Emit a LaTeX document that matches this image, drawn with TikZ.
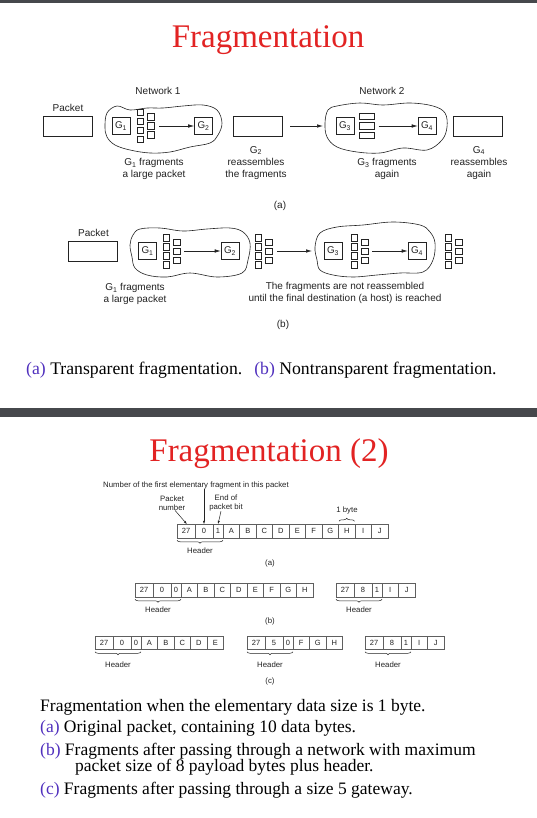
\documentclass[tikz,border=0pt]{standalone}
\usepackage{fontspec}
\setmainfont{Liberation Serif}
\setsansfont{Liberation Sans}
\usetikzlibrary{arrows.meta,decorations.pathreplacing}
\definecolor{titlered}{RGB}{226,35,35}
\definecolor{capblue}{RGB}{80,48,190}
\definecolor{barc}{RGB}{70,72,76}
\definecolor{ink}{RGB}{35,35,35}
\definecolor{cellc}{RGB}{95,95,95}

\newcommand\cellrow[4]{%
  \foreach \w/\txt [count=\i] in {#4}{%
    \pgfmathtruncatemacro\j{\i-1}%
    \ifnum\i=1
      \node[cell,minimum width=\w pt,anchor=west] (#1-\i) at (#2,#3) {\txt};%
    \else
      \node[cell,minimum width=\w pt,anchor=west] (#1-\i) at (#1-\j.east) {\txt};%
    \fi
  }%
}
\newcommand\fragcluster[3]{%
  \foreach \dy [count=\k] in {-13.5,-4.5,4.5,13.5}{\node[sq] (#1-a\k) at ({#2},{#3+(\dy)}) {};}%
  \foreach \dy [count=\k] in {-9,0,9}{\node[sq] (#1-b\k) at ({#2+10.5},{#3+(\dy)}) {};}%
}

\begin{document}
\begin{tikzpicture}[x=1pt,y=-1pt,
  gbox/.style={draw=ink, line width=0.6pt, minimum width=18pt, minimum height=17pt, inner sep=0, font=\sffamily\fontsize{9.8}{11}\selectfont, text=ink},
  pbox/.style={draw=ink, line width=0.6pt, minimum width=49pt, minimum height=20pt, inner sep=0},
  sq/.style={draw=ink, line width=0.5pt, minimum size=6.5pt, inner sep=0},
  fragr/.style={draw=ink, line width=0.5pt, minimum width=15pt, minimum height=6.5pt, inner sep=0},
  lbl/.style={font=\sffamily\fontsize{10}{12}\selectfont, text=ink, align=center, inner sep=0},
  blob/.style={draw=ink, line width=0.6pt},
  arr/.style={draw=ink, line width=0.6pt, -{Latex[length=6pt,width=3.5pt]}},
  sarr/.style={draw=ink, line width=0.5pt, -{Latex[length=3.5pt,width=2.2pt]}},
  cell/.style={draw=cellc, line width=0.5pt, minimum height=13.5pt, inner sep=0, outer sep=0, font=\sffamily\fontsize{7.5}{8}\selectfont, text=ink},
  small/.style={font=\sffamily\fontsize{7.8}{8.6}\selectfont, text=ink, align=center, inner sep=0},
  brc/.style={draw=ink, line width=0.5pt, decorate, decoration={brace, amplitude=3pt}},
  title/.style={font=\fontsize{33}{36}\selectfont, text=titlered, inner sep=0, anchor=base},
  body/.style={font=\fontsize{17.5}{20}\selectfont, text=black, inner sep=0, anchor=base west}
]
\useasboundingbox (0,0) rectangle (537,818);
\fill[white] (0,0) rectangle (537,818);
\fill[barc] (0,0) rectangle (537,3);
\fill[barc] (0,408) rectangle (537,417);

% ---------- slide 1 ----------
\node[title] (t1) at (268,48) {Fragmentation};

% (a) transparent
\node[lbl] (net1) at (158,91) {Network 1};
\node[lbl] (net2) at (382,91) {Network 2};
\node[lbl] (pkla) at (68,108) {Packet};
\node[pbox] (Pa) at (67.5,126) {};
\draw[blob] plot[smooth cycle, tension=0.6] coordinates {(105,127) (107,113) (117,106) (130,110) (147,108) (163,108) (183,106) (203,105) (217,110) (222,123) (218,135) (210,143) (190,147) (170,152) (150,153) (130,150) (115,145) (107,137)};
\node[gbox] (G1a) at (121,126) {G\textsubscript{1}};
\fragcluster{A1}{140}{126}
\node[gbox] (G2a) at (203.5,126) {G\textsubscript{2}};
\draw[arr] ([xshift=5pt]A1-b2.east) -- (G2a.west);
\node[pbox] (Ra) at (257.5,126) {};
\coordinate (c2w) at (323,126);
\draw[arr] ([xshift=8pt]Ra.east) -- (c2w);
\draw[blob] plot[smooth cycle, tension=0.6] coordinates {(325,123) (328,110) (337,106) (360,103) (383,105) (410,103) (433,106) (445,113) (447,127) (442,140) (427,150) (403,148) (380,153) (357,152) (337,147) (327,137)};
\node[gbox] (G3a) at (345,126) {G\textsubscript{3}};
\node[fragr] (F1) at (366.8,116.5) {};
\node[fragr] (F2) at (366.8,126) {};
\node[fragr] (F3) at (366.8,135.5) {};
\node[gbox] (G4a) at (427,126) {G\textsubscript{4}};
\draw[arr] ([xshift=4pt]F2.east) -- (G4a.west);
\node[pbox] (Fa) at (478,126) {};
\node[lbl] (la1) at (154,169) {G\textsubscript{1} fragments\\a large packet};
\node[lbl] (la2) at (256,163) {G\textsubscript{2}\\reassembles\\the fragments};
\node[lbl] (la3) at (387,169) {G\textsubscript{3} fragments\\again};
\node[lbl] (la4) at (479,163) {G\textsubscript{4}\\reassembles\\again};
\node[lbl] (capa) at (280,206) {(a)};

% (b) nontransparent
\node[lbl] (pklb) at (93.5,233) {Packet};
\node[pbox] (Pb) at (93,251) {};
\draw[blob] plot[smooth cycle, tension=0.6] coordinates {(130,245) (133,235) (140,229) (160,228) (183,231) (207,229) (230,228) (243,232) (250,243) (248,260) (242,273) (217,277) (190,273) (167,277) (147,275) (135,268) (132,257)};
\node[gbox] (G1b) at (147.5,251) {G\textsubscript{1}};
\fragcluster{B1}{166}{251}
\node[gbox] (G2b) at (230,251) {G\textsubscript{2}};
\draw[arr] ([xshift=4pt]B1-b2.east) -- (G2b.west);
\fragcluster{B2}{258}{251}
\coordinate (cb2w) at (312,251);
\draw[arr] ([xshift=5pt]B2-b2.east) -- (cb2w);
\draw[blob] plot[smooth cycle, tension=0.6] coordinates {(315,247) (320,233) (337,227) (363,225) (393,222) (420,225) (430,232) (435,243) (433,260) (423,272) (400,273) (377,275) (353,277) (333,275) (320,270) (317,260)};
\node[gbox] (G3b) at (333,251) {G\textsubscript{3}};
\fragcluster{B3}{354}{251}
\node[gbox] (G4b) at (417,251) {G\textsubscript{4}};
\draw[arr] ([xshift=4pt]B3-b2.east) -- (G4b.west);
\fragcluster{B4}{448}{251}
\node[lbl] (lb1) at (135,294) {G\textsubscript{1} fragments\\a large packet};
\node[lbl] (lb2) at (345,293) {The fragments are not reassembled\\until the final destination (a host) is reached};
\node[lbl] (capb) at (283,325) {(b)};

\node[body, font=\fontsize{17.7}{20}\selectfont] (cap1) at (26,374) {\textcolor{capblue}{(a)} Transparent fragmentation.\hspace{12pt}\textcolor{capblue}{(b)} Nontransparent fragmentation.};

% ---------- slide 2 ----------
\node[title] (t2) at (269,461) {Fragmentation (2)};

\node[small, anchor=west] (num) at (103,485) {Number of the first elementary fragment in this packet};
\node[small] (pn) at (172,503) {Packet\\number};
\node[small] (eop) at (226,503) {End of\\packet bit};
\cellrow{ra}{177}{531}{18/27,18/0,10/1,16.5/A,16.5/B,16.5/C,16.5/D,16.5/E,16.5/F,16.5/G,16.5/H,16.5/I,16.5/J}
\draw[sarr] (num.south -| ra-2.north) -- (ra-2.north);
\draw[sarr] ([xshift=3pt]pn.south) -- ([xshift=1pt]ra-1.north);
\draw[sarr] ([xshift=-5pt]eop.south) -- (ra-3.north);
\draw[brc] ([xshift=0.5pt,yshift=3pt]ra-11.north west) -- ([xshift=-0.5pt,yshift=3pt]ra-11.north east);
\node[small] (oneb) at (347,510) {1 byte};
\draw[brc] ([yshift=-2.5pt]ra-3.south east) -- ([yshift=-2.5pt]ra-1.south west);
\node[small] (hda) at (200,551) {Header};
\node[small] (lbla) at (270,563) {(a)};

\cellrow{rb}{135}{590}{18/27,18/0,10/0,16.5/A,16.5/B,16.5/C,16.5/D,16.5/E,16.5/F,16.5/G,16.5/H}
\cellrow{rbb}{336}{590}{18/27,18/8,10/1,16.5/I,16.5/J}
\draw[brc] ([yshift=-2.5pt]rb-3.south east) -- ([yshift=-2.5pt]rb-1.south west);
\draw[brc] ([yshift=-2.5pt]rbb-3.south east) -- ([yshift=-2.5pt]rbb-1.south west);
\node[small] (hdb1) at (158,610) {Header};
\node[small] (hdb2) at (359,610) {Header};
\node[small] (lblb) at (270,621) {(b)};

\cellrow{rc}{95}{642.5}{18/27,18/0,10/0,16.5/A,16.5/B,16.5/C,16.5/D,16.5/E}
\cellrow{rcb}{247}{642.5}{18/27,18/5,10/0,16.5/F,16.5/G,16.5/H}
\cellrow{rcc}{365}{642.5}{18/27,18/8,10/1,16.5/I,16.5/J}
\draw[brc] ([yshift=-2.5pt]rc-3.south east) -- ([yshift=-2.5pt]rc-1.south west);
\draw[brc] ([yshift=-2.5pt]rcb-3.south east) -- ([yshift=-2.5pt]rcb-1.south west);
\draw[brc] ([yshift=-2.5pt]rcc-3.south east) -- ([yshift=-2.5pt]rcc-1.south west);
\node[small] (hdc1) at (118,665) {Header};
\node[small] (hdc2) at (270,665) {Header};
\node[small] (hdc3) at (388,665) {Header};
\node[small] (lblc) at (270,681) {(c)};

\node[body] (b1) at (40,711) {Fragmentation when the elementary data size is 1 byte.};
\node[body] (b2) at (40,732) {\textcolor{capblue}{(a)} Original packet, containing 10 data bytes.};
\node[body] (b3) at (40,755) {\textcolor{capblue}{(b)} Fragments after passing through a network with maximum};
\node[body] (b4) at (75,771) {packet size of 8 payload bytes plus header.};
\node[body] (b5) at (40,794) {\textcolor{capblue}{(c)} Fragments after passing through a size 5 gateway.};
\end{tikzpicture}
\end{document}
